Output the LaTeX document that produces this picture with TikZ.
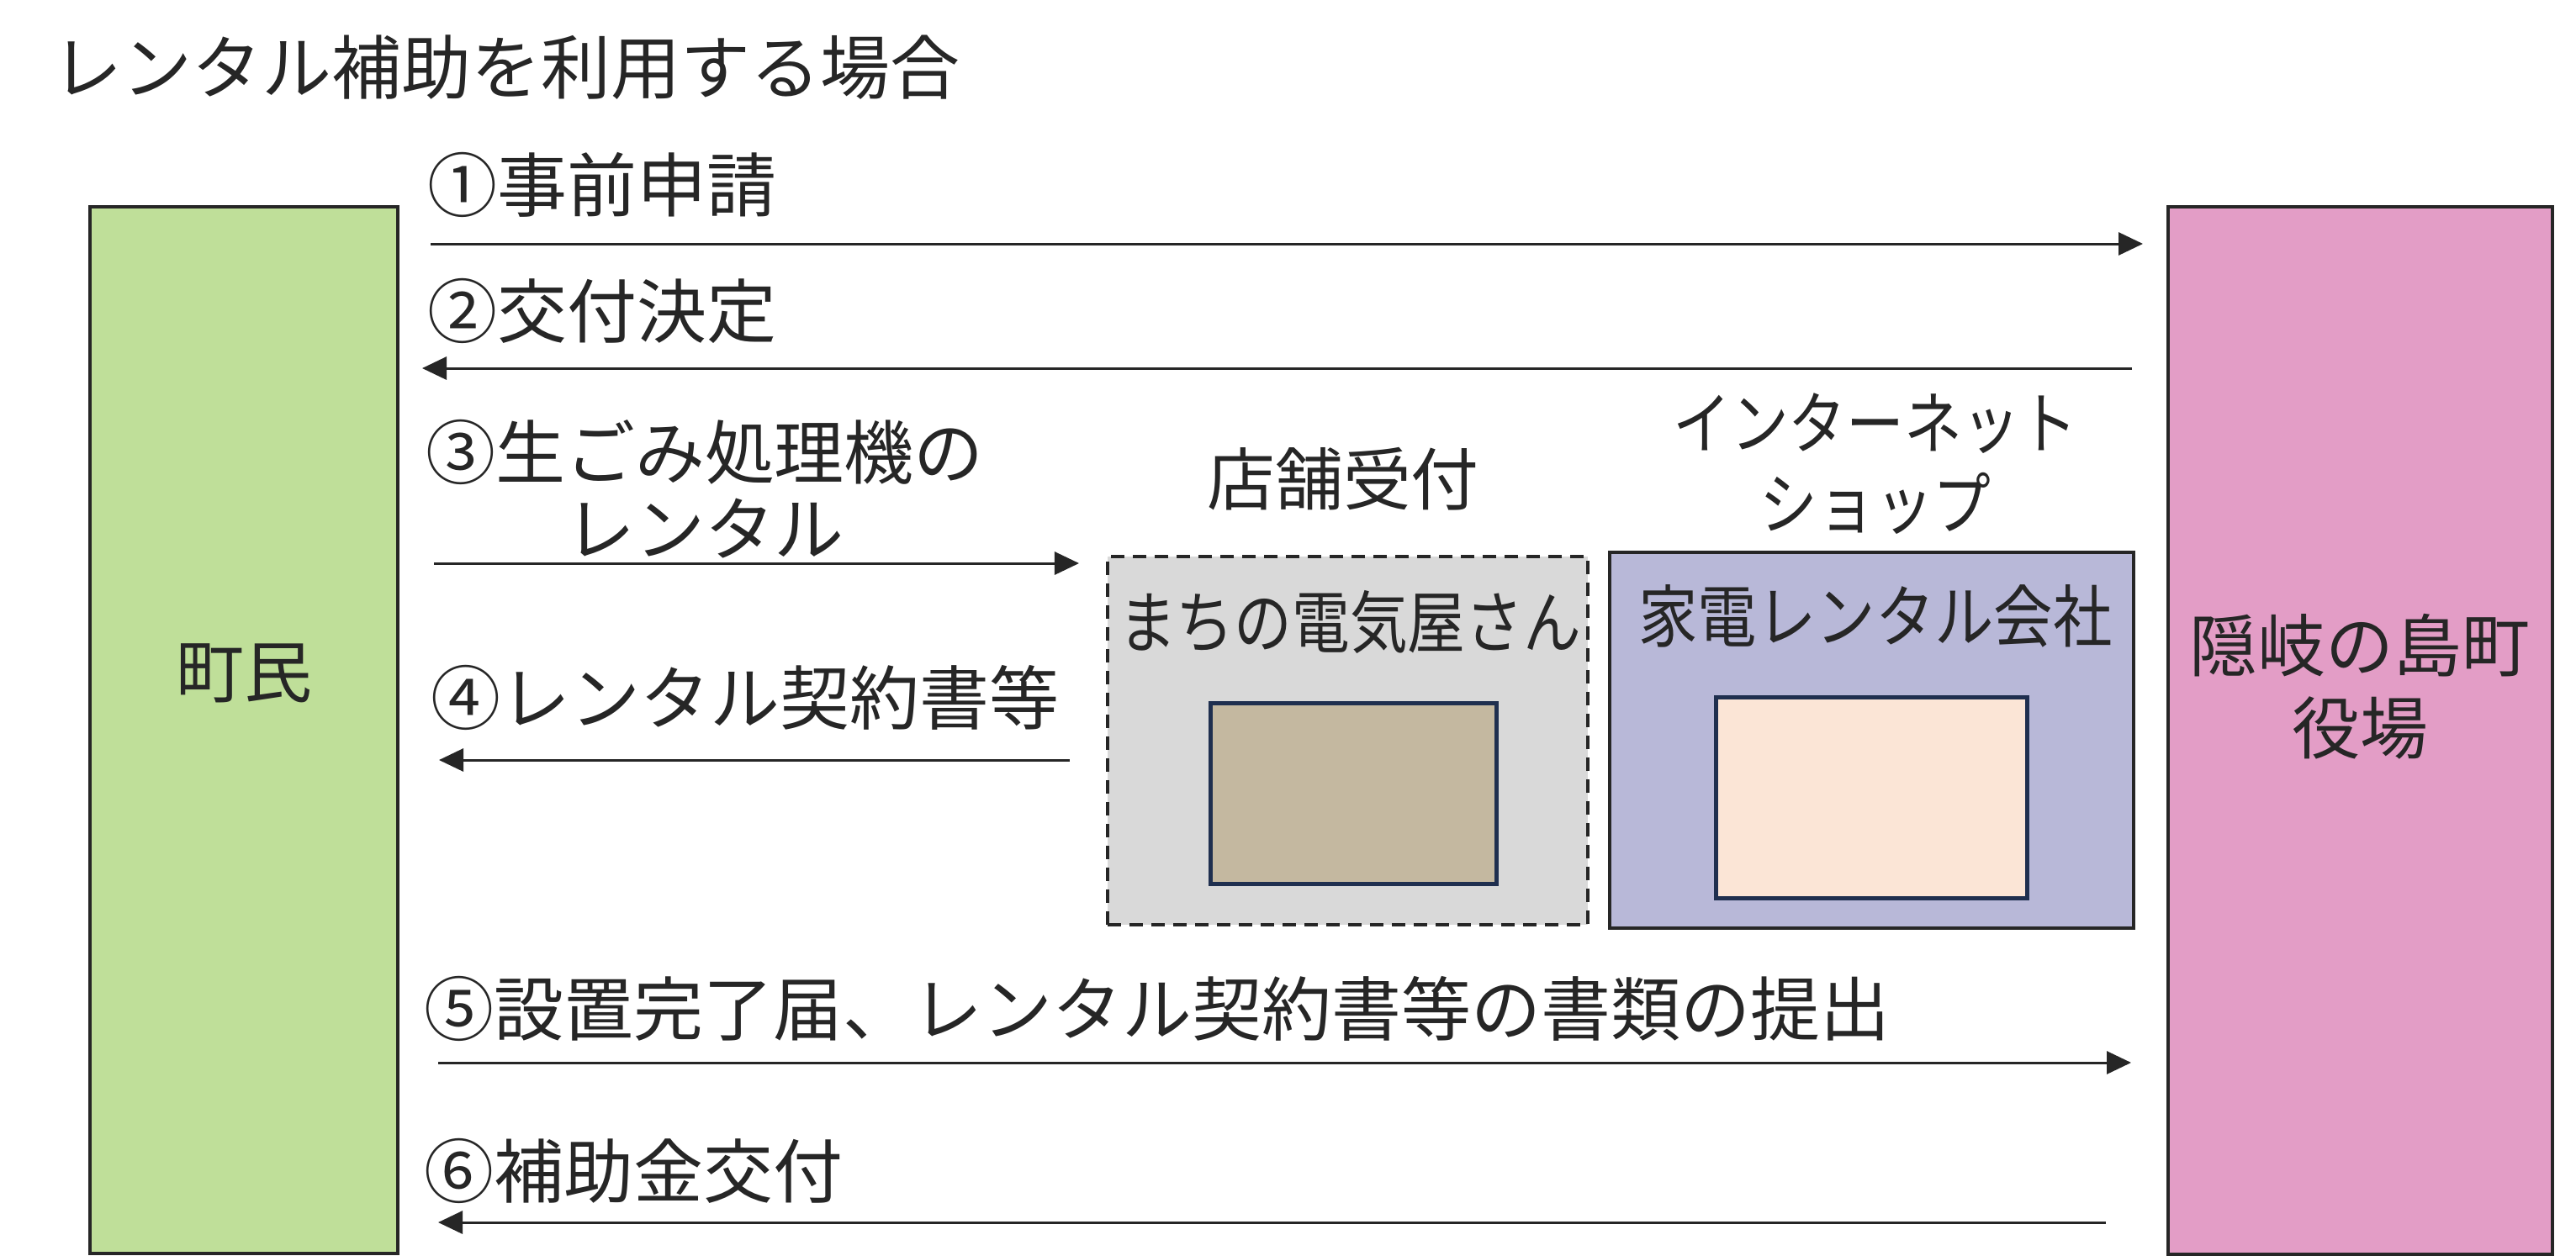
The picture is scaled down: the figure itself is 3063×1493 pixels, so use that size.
\documentclass[tikz,border=0pt]{standalone}
\usepackage{fontspec}
\usepackage{graphicx}
\setmainfont{Noto Sans CJK JP}
\usetikzlibrary{arrows.meta}
\definecolor{ink}{HTML}{262626}
\definecolor{navy}{HTML}{1F2F4F}
\definecolor{towngreen}{HTML}{BFDF99}
\definecolor{officepink}{HTML}{E39DC6}
\definecolor{shopgray}{HTML}{D9D9D9}
\definecolor{netpurple}{HTML}{B8B8D8}
\definecolor{itembrown}{HTML}{C4B8A0}
\definecolor{itempeach}{HTML}{FBE5D6}
\newcommand{\narrow}[1]{\scalebox{0.85}[1]{#1}}
\begin{document}
\begin{tikzpicture}[x=0.01cm,y=-0.01cm,
  lbl/.style={anchor=west, inner sep=0pt, text=ink, font=\fontsize{23.6}{26}\selectfont},
  ctr/.style={inner sep=0pt, text=ink, align=center, font=\fontsize{23}{26}\selectfont},
  flow/.style={draw=ink, line width=0.03cm, -{Triangle[length=0.29cm,width=0.27cm]}},
  bigbox/.style={draw=ink, line width=0.04cm, anchor=north west, inner sep=0pt},
  itembox/.style={draw=navy, line width=0.05cm, anchor=north west, inner sep=0pt}]
\useasboundingbox (0,0) rectangle (3063,1493);

% actor boxes
\node[bigbox, fill=towngreen, minimum width=3.66cm, minimum height=12.44cm] (town) at (105,244) {};
\node[bigbox, fill=officepink, minimum width=4.57cm, minimum height=12.45cm] (office) at (2576,244) {};
\node[bigbox, fill=shopgray, dashed, dash pattern=on 0.16cm off 0.10cm, minimum width=5.71cm, minimum height=4.38cm] (shop) at (1315,660) {};
\node[bigbox, fill=netpurple, minimum width=6.23cm, minimum height=4.47cm] (net) at (1912,655) {};
\node[itembox, fill=itembrown, minimum width=3.40cm, minimum height=2.15cm] (item1) at (1437,834) {};
\node[itembox, fill=itempeach, minimum width=3.70cm, minimum height=2.39cm] (item2) at (2038,827) {};

% texts
\node[lbl] (title) at (62,80) {レンタル補助を利用する場合};
\node[ctr] (townlbl) at (290,801) {町民};
\node[ctr, font=\fontsize{23}{28}\selectfont] (officelbl) at (2806,817) {隠岐の島町\\役場};
\node[ctr] (shoplbl) at (1597,570) {店舗受付};
\node[ctr, font=\fontsize{23}{27.3}\selectfont] (netlbl) at (2230,552) {\narrow{インターネット}\\\narrow{ショップ}};
\node[ctr] (shopname) at (1605,740) {\narrow{まちの電気屋さん}};
\node[ctr] (netname) at (2230,733) {\scalebox{0.87}[1]{家電レンタル会社}};

\node[lbl] (s1) at (508,220) {①事前申請};
\node[lbl] (s2) at (508,370) {②交付決定};
\node[ctr, font=\fontsize{23.6}{25.9}\selectfont] (s3) at (838,582) {③生ごみ処理機の\\レンタル};
\node[lbl] (s4) at (512,830) {④レンタル契約書等};
\node[lbl] (s5) at (504,1200) {⑤設置完了届、レンタル契約書等の書類の提出};
\node[lbl] (s6) at (504,1393) {⑥補助金交付};

% arrow end points
\coordinate (a1s) at (512,290);  \coordinate (a1e) at (2548,290);
\coordinate (a2s) at (2535,438); \coordinate (a2e) at (502,438);
\coordinate (a3s) at (516,670);  \coordinate (a3e) at (1283,670);
\coordinate (a4s) at (1272,904); \coordinate (a4e) at (522,904);
\coordinate (a5s) at (521,1264); \coordinate (a5e) at (2534,1264);
\coordinate (a6s) at (2504,1454);\coordinate (a6e) at (521,1454);

\draw[flow] (a1s) -- (a1e);
\draw[flow] (a2s) -- (a2e);
\draw[flow] (a3s) -- (a3e);
\draw[flow] (a4s) -- (a4e);
\draw[flow] (a5s) -- (a5e);
\draw[flow] (a6s) -- (a6e);
\end{tikzpicture}
\end{document}
